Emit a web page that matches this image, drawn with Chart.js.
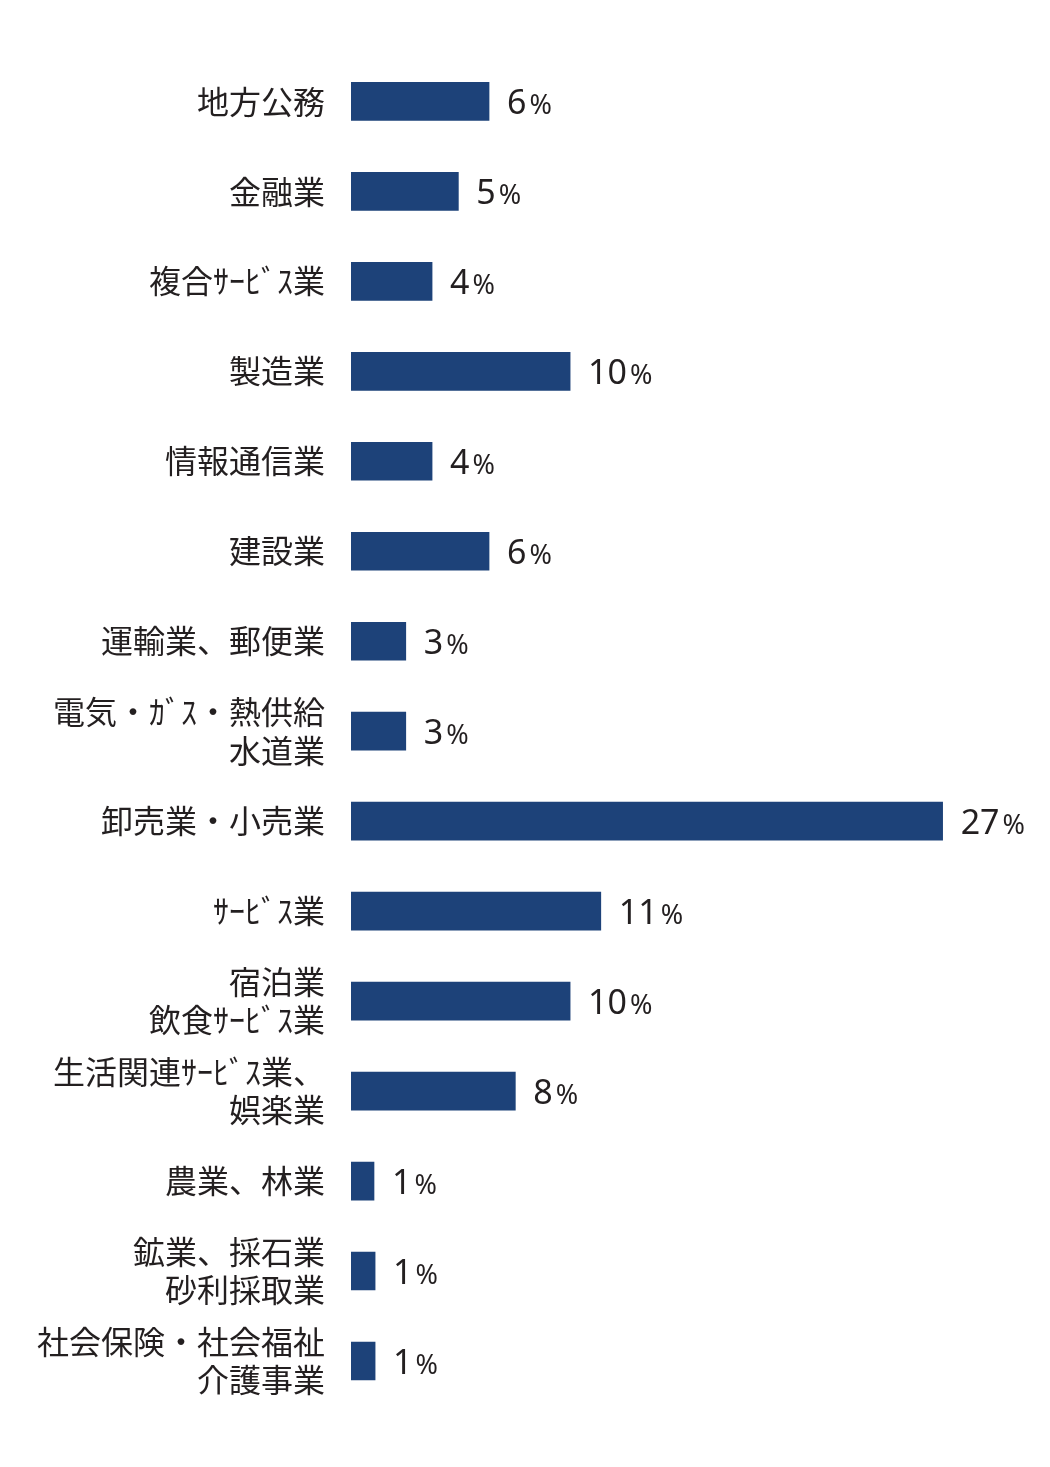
<!DOCTYPE html>
<html><head><meta charset="utf-8">
<script src="https://cdn.jsdelivr.net/npm/chart.js@4/dist/chart.umd.min.js"></script>
<style>html,body{margin:0;padding:0;background:#fff}#w{width:1050px;height:1467px}</style>
</head><body><div id="w"><canvas id="c"></canvas></div>
<script>
const categories = [
  ["地方公務"],["金融業"],["複合ｻｰﾋﾞｽ業"],["製造業"],["情報通信業"],["建設業"],
  ["運輸業、郵便業"],["電気・ｶﾞｽ・熱供給","水道業"],["卸売業・小売業"],["ｻｰﾋﾞｽ業"],
  ["宿泊業","飲食ｻｰﾋﾞｽ業"],["生活関連ｻｰﾋﾞｽ業、","娯楽業"],["農業、林業"],
  ["鉱業、採石業","砂利採取業"],["社会保険・社会福祉","介護事業"]
];
const values = [6.3,4.9,3.7,10.0,3.7,6.3,2.5,2.5,27.0,11.4,10.0,7.5,1.05,1.1,1.1];
const valueLabels = ["6","5","4","10","4","6","3","3","27","11","10","8","1","1","1"];

const labelPlugin = {
  id:'vl',
  afterDatasetsDraw(chart){
    const ctx = chart.ctx;
    chart.getDatasetMeta(0).data.forEach((bar,i)=>{
      let x = bar.x + 18, y = bar.y + 3;
      ctx.save();
      ctx.fillStyle = '#231f20';
      ctx.textBaseline = 'middle';
      ctx.font = '34px "Noto Sans", sans-serif';
      ctx.fillText(valueLabels[i], x, y);
      const w = ctx.measureText(valueLabels[i]).width;
      ctx.font = '27px "Noto Sans", sans-serif';
      ctx.fillText('%', x + w + 3, y + 2);
      ctx.restore();
    });
  }
};

new Chart(document.getElementById('c'), {
  type:'bar',
  data:{labels:categories, datasets:[{data:values, backgroundColor:'#1d4279', barThickness:38}]},
  options:{
    indexAxis:'y', responsive:true, maintainAspectRatio:false, animation:false,
    layout:{padding:{top:31,bottom:61,right:0,left:0}},
    plugins:{legend:{display:false},tooltip:{enabled:false}},
    scales:{
      x:{display:false,min:0,max:31.9},
      y:{grid:{display:false},border:{display:false},
         afterFit(s){s.width=351;},
         ticks:{color:'#231f20',padding:18,font:{family:'"Noto Sans CJK JP"',size:32},
                crossAlign:'near'}}
    }
  },
  plugins:[labelPlugin]
});
</script></body></html>
